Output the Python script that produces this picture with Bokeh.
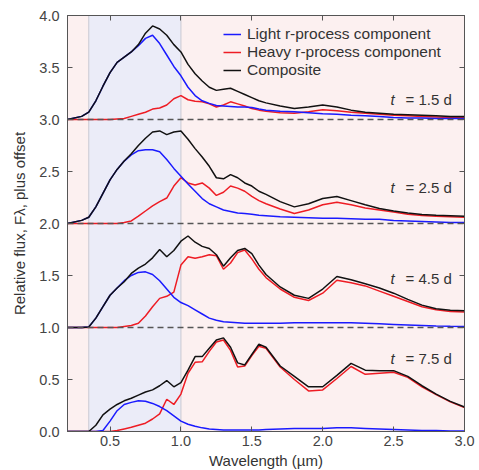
import numpy as np
from bokeh.plotting import figure
from bokeh.models import (LinearAxis, FixedTicker, SingleIntervalTicker, PrintfTickFormatter,
                          BoxAnnotation, Span, Legend, LegendItem)
from bokeh.core.properties import value
from bokeh.embed import file_html
from bokeh.resources import INLINE

# ---------------- data ----------------
wavelength = [0.20, 0.30, 0.35, 0.40, 0.45, 0.50, 0.55, 0.60, 0.65, 0.70, 0.75, 0.80, 0.85, 0.90,
              0.95, 1.00, 1.05, 1.10, 1.15, 1.20, 1.25, 1.30, 1.35, 1.40, 1.45, 1.50, 1.55, 1.60,
              1.70, 1.80, 1.90, 2.00, 2.10, 2.20, 2.30, 2.40, 2.50, 2.60, 2.70, 2.80, 2.90, 3.00]

epoch_labels = ["= 1.5 d", "= 2.5 d", "= 4.5 d", "= 7.5 d"]
offsets = [3, 2, 1, 0]

light_15 = [0, 0.03, 0.07, 0.18, 0.32, 0.45, 0.55, 0.60, 0.65, 0.71, 0.78, 0.81, 0.73, 0.62, 0.51,
            0.42, 0.31, 0.23, 0.18, 0.155, 0.135, 0.13, 0.125, 0.12, 0.12, 0.115, 0.10, 0.09,
            0.08, 0.075, 0.065, 0.055, 0.05, 0.04, 0.035, 0.03, 0.02, 0.015, 0.015, 0.01, 0.01, 0.01]
heavy_15 = [0, 0, 0, 0, 0, 0, 0.005, 0.01, 0.03, 0.05, 0.07, 0.10, 0.11, 0.14, 0.20,
            0.23, 0.19, 0.175, 0.17, 0.15, 0.12, 0.14, 0.17, 0.15, 0.13, 0.105, 0.09, 0.08,
            0.065, 0.06, 0.075, 0.093, 0.085, 0.07, 0.06, 0.05, 0.04, 0.035, 0.03, 0.025, 0.02, 0.02]
comp_15 = [0, 0.03, 0.07, 0.18, 0.32, 0.45, 0.55, 0.60, 0.65, 0.72, 0.83, 0.90, 0.87, 0.81, 0.72,
           0.65, 0.53, 0.44, 0.37, 0.31, 0.28, 0.29, 0.30, 0.27, 0.24, 0.21, 0.18, 0.16,
           0.13, 0.105, 0.12, 0.14, 0.12, 0.09, 0.07, 0.06, 0.05, 0.045, 0.04, 0.035, 0.03, 0.03]

light_25 = [0, 0.03, 0.06, 0.16, 0.29, 0.42, 0.52, 0.60, 0.66, 0.70, 0.71, 0.71, 0.69, 0.615, 0.53,
            0.455, 0.38, 0.31, 0.24, 0.19, 0.16, 0.13, 0.115, 0.10, 0.095, 0.09, 0.08, 0.075,
            0.065, 0.06, 0.055, 0.05, 0.05, 0.045, 0.04, 0.04, 0.03, 0.025, 0.02, 0.015, 0.01, 0.01]
heavy_25 = [0, 0, 0, 0, 0, 0, 0, 0.01, 0.025, 0.07, 0.12, 0.17, 0.21, 0.245, 0.36,
            0.44, 0.39, 0.37, 0.39, 0.34, 0.27, 0.30, 0.36, 0.34, 0.31, 0.26, 0.22, 0.19,
            0.14, 0.096, 0.13, 0.18, 0.205, 0.18, 0.15, 0.13, 0.11, 0.09, 0.077, 0.07, 0.065, 0.06]
comp_25 = [0, 0.03, 0.06, 0.16, 0.29, 0.42, 0.52, 0.60, 0.67, 0.75, 0.82, 0.88, 0.89, 0.855, 0.88,
           0.89, 0.81, 0.72, 0.64, 0.55, 0.44, 0.43, 0.47, 0.44, 0.39, 0.36, 0.31, 0.28,
           0.21, 0.16, 0.19, 0.24, 0.26, 0.22, 0.18, 0.145, 0.12, 0.10, 0.087, 0.08, 0.075, 0.07]

light_45 = [0, 0, 0.005, 0.09, 0.20, 0.31, 0.38, 0.45, 0.50, 0.53, 0.535, 0.51, 0.45, 0.37, 0.29,
            0.24, 0.21, 0.17, 0.13, 0.09, 0.07, 0.055, 0.05, 0.045, 0.04, 0.04, 0.04, 0.04,
            0.04, 0.045, 0.045, 0.045, 0.045, 0.045, 0.04, 0.035, 0.03, 0.025, 0.02, 0.015, 0.012, 0.01]
heavy_45 = [0, 0, 0, 0, 0, 0, 0, 0.01, 0.02, 0.04, 0.11, 0.20, 0.28, 0.30, 0.34,
            0.60, 0.68, 0.665, 0.68, 0.70, 0.69, 0.56, 0.62, 0.72, 0.745, 0.66, 0.56, 0.48,
            0.37, 0.29, 0.26, 0.33, 0.455, 0.43, 0.40, 0.35, 0.30, 0.25, 0.20, 0.17, 0.155, 0.15]
comp_45 = [0, 0, 0.005, 0.09, 0.20, 0.31, 0.38, 0.44, 0.52, 0.57, 0.61, 0.67, 0.75, 0.68, 0.74,
           0.83, 0.88, 0.82, 0.78, 0.76, 0.70, 0.59, 0.67, 0.74, 0.76, 0.71, 0.60, 0.51,
           0.39, 0.31, 0.28, 0.37, 0.49, 0.46, 0.42, 0.38, 0.33, 0.27, 0.215, 0.18, 0.165, 0.16]

light_75 = [0, 0, 0, 0, 0.01, 0.10, 0.20, 0.26, 0.28, 0.295, 0.29, 0.27, 0.24, 0.20, 0.15,
            0.10, 0.07, 0.05, 0.035, 0.025, 0.02, 0.015, 0.015, 0.015, 0.015, 0.015, 0.015, 0.02,
            0.025, 0.03, 0.03, 0.03, 0.035, 0.035, 0.03, 0.025, 0.02, 0.015, 0.01, 0.01, 0.005, 0.005]
heavy_75 = [0, 0, 0, 0, 0, 0, 0.01, 0.025, 0.04, 0.06, 0.08, 0.12, 0.17, 0.31, 0.26,
            0.36, 0.56, 0.665, 0.67, 0.77, 0.86, 0.88, 0.78, 0.62, 0.63, 0.73, 0.82, 0.80,
            0.62, 0.50, 0.39, 0.40, 0.51, 0.625, 0.55, 0.56, 0.57, 0.52, 0.43, 0.355, 0.285, 0.23]
comp_75 = [0, 0, 0, 0.06, 0.16, 0.215, 0.26, 0.295, 0.32, 0.35, 0.38, 0.40, 0.44, 0.49, 0.43,
           0.47, 0.59, 0.72, 0.72, 0.80, 0.88, 0.90, 0.81, 0.66, 0.64, 0.74, 0.84, 0.81,
           0.63, 0.53, 0.43, 0.43, 0.54, 0.655, 0.59, 0.585, 0.585, 0.53, 0.44, 0.36, 0.29, 0.235]

light_series = [light_15, light_25, light_45, light_75]
heavy_series = [heavy_15, heavy_25, heavy_45, heavy_75]
comp_series = [comp_15, comp_25, comp_45, comp_75]

band_lo, band_hi = 0.35, 1.0
x_ticks = [0.5, 1.0, 1.5, 2.0, 2.5, 3.0]

# ---------------- style ----------------
FONT = "Liberation Sans"
BLUE = "#1a1aff"
RED = "#ee1c24"
BLACK = "#111111"

p = figure(frame_width=397, frame_height=416, x_range=(0.2, 3.0), y_range=(0.0, 4.0),
           output_backend="svg", toolbar_location=None,
           min_border_left=67, min_border_right=15, min_border_top=15, min_border_bottom=39)
p.background_fill_color = "#fcf0f0"
p.border_fill_color = "white"
p.outline_line_color = "#555555"
p.grid.visible = False

p.add_layout(BoxAnnotation(left=band_lo, right=band_hi, fill_color="#ebecf8", fill_alpha=1.0,
                           line_color=None, level="underlay"))
for xv in (band_lo, band_hi):
    p.add_layout(Span(location=xv, dimension="height", line_color="#c9c9d2", line_width=1,
                      level="underlay"))
for off in offsets[:-1]:
    p.add_layout(Span(location=off, dimension="width", line_color="#555555", line_width=1.3,
                      line_dash="6 4"))

legend_items = {}
for off, lt, hv, cp in zip(offsets, light_series, heavy_series, comp_series):
    r_h = p.line(wavelength, np.array(hv) + off, line_color=RED, line_width=1.5)
    r_l = p.line(wavelength, np.array(lt) + off, line_color=BLUE, line_width=1.5)
    r_c = p.line(wavelength, np.array(cp) + off, line_color=BLACK, line_width=1.5)
    if off == offsets[0]:
        legend_items = {"l": r_l, "h": r_h, "c": r_c}

label_y = [3.19, 2.35, 1.47, 0.70]
p.text(x=[2.91] * 4, y=label_y, text=epoch_labels, text_font=value(FONT),
       text_font_size="15px", text_align="right", text_baseline="middle", text_color="#333333")
p.text(x=[2.91] * 4, y=label_y, text=["t"] * 4, text_font=value(FONT), text_font_style="italic",
       text_font_size="15px", text_align="right", text_baseline="middle", text_color="#333333",
       x_offset=-57)

legend = Legend(items=[LegendItem(label="Light r-process component", renderers=[legend_items["l"]]),
                       LegendItem(label="Heavy r-process component", renderers=[legend_items["h"]]),
                       LegendItem(label="Composite", renderers=[legend_items["c"]])],
                location=(156, 352), padding=0, margin=0, spacing=0,
                glyph_width=18, glyph_height=16, label_height=16, label_standoff=6,
                label_text_font=FONT, label_text_font_size="15.5px", label_text_color="#333333",
                background_fill_alpha=0, border_line_color=None)
p.add_layout(legend, "center")

# axes
p.xaxis.ticker = FixedTicker(ticks=x_ticks)
p.yaxis.ticker = SingleIntervalTicker(interval=0.5)
p.xaxis.formatter = PrintfTickFormatter(format="%.1f")
p.yaxis.formatter = PrintfTickFormatter(format="%.1f")
p.xaxis.axis_label = "Wavelength (µm)"
p.yaxis.axis_label = "Relative flux, Fλ, plus offset"
for ax in (p.xaxis[0], p.yaxis[0]):
    ax.major_tick_in = 5
    ax.major_tick_out = 0
    ax.minor_tick_line_color = None
    ax.axis_line_color = "#555555"
    ax.major_tick_line_color = "#555555"
    ax.major_label_text_font = FONT
    ax.major_label_text_font_size = "14.5px"
    ax.major_label_text_color = "#444444"
    ax.axis_label_text_font = FONT
    ax.axis_label_text_font_size = "15px"
    ax.axis_label_text_font_style = "normal"
    ax.axis_label_text_color = "#333333"
    ax.major_label_standoff = 4
p.xaxis.axis_label_standoff = 3
p.yaxis.axis_label_standoff = 8

top = LinearAxis(ticker=FixedTicker(ticks=x_ticks))
right = LinearAxis(ticker=SingleIntervalTicker(interval=0.5))
for ax in (top, right):
    ax.major_tick_in = 5
    ax.major_tick_out = 0
    ax.minor_tick_line_color = None
    ax.major_label_text_font_size = "1px"
    ax.major_label_text_color = None
    ax.major_label_standoff = 0
    ax.axis_line_color = "#555555"
    ax.major_tick_line_color = "#555555"
p.add_layout(top, "above")
p.add_layout(right, "right")

open("out.html", "w").write(file_html(p, INLINE))
